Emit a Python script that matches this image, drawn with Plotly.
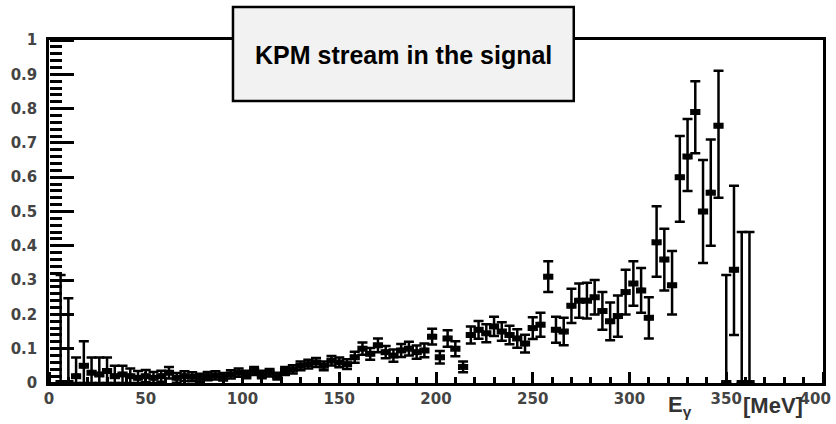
import plotly.graph_objects as go

energy = [6, 10, 14, 18, 22, 26, 30, 34, 38, 42, 46, 50, 54, 58, 62, 66, 70, 74, 78, 82,
          86, 90, 94, 98, 102, 106, 110, 114, 118, 122, 126, 130, 134, 138, 142, 146, 150,
          154, 158, 162, 166, 170, 174, 178, 182, 186, 190, 194, 198, 202, 206, 210, 214,
          218, 222, 226, 230, 234, 238, 242, 246, 250, 254, 258, 262, 266, 270, 274, 278,
          282, 286, 290, 294, 298, 302, 306, 310, 314, 318, 322, 326, 330, 334, 338, 342,
          346, 350, 354, 358, 362]
fraction = [0.0, 0.0, 0.02, 0.05, 0.03, 0.025, 0.035, 0.02, 0.025, 0.02, 0.015, 0.02, 0.015,
            0.02, 0.03, 0.015, 0.02, 0.018, 0.015, 0.02, 0.022, 0.018, 0.025, 0.03, 0.025,
            0.035, 0.025, 0.03, 0.02, 0.035, 0.04, 0.05, 0.055, 0.06, 0.05, 0.065, 0.06,
            0.055, 0.075, 0.10, 0.085, 0.11, 0.09, 0.08, 0.095, 0.10, 0.09, 0.095, 0.135,
            0.075, 0.13, 0.10, 0.047, 0.14, 0.155, 0.145, 0.165, 0.15, 0.14, 0.13, 0.115,
            0.16, 0.17, 0.31, 0.155, 0.15, 0.225, 0.24, 0.24, 0.25, 0.21, 0.18, 0.195,
            0.265, 0.29, 0.27, 0.19, 0.41, 0.36, 0.285, 0.60, 0.66, 0.79, 0.50, 0.555,
            0.75, 0.0, 0.33, 0.0, 0.0]
err_up = [0.315, 0.247, 0.054, 0.072, 0.044, 0.049, 0.039, 0.03, 0.025, 0.022, 0.02, 0.018,
          0.017, 0.016, 0.017, 0.014, 0.014, 0.013, 0.012, 0.012, 0.012, 0.011, 0.012, 0.012,
          0.011, 0.012, 0.011, 0.011, 0.01, 0.012, 0.012, 0.013, 0.013, 0.013, 0.013, 0.014,
          0.014, 0.014, 0.016, 0.018, 0.017, 0.02, 0.018, 0.018, 0.019, 0.02, 0.019, 0.02,
          0.023, 0.018, 0.024, 0.022, 0.016, 0.025, 0.026, 0.026, 0.028, 0.027, 0.027, 0.027,
          0.026, 0.032, 0.035, 0.045, 0.038, 0.04, 0.05, 0.05, 0.052, 0.05, 0.055, 0.055,
          0.06, 0.065, 0.065, 0.065, 0.06, 0.105, 0.09, 0.1, 0.12, 0.11, 0.09, 0.15, 0.155,
          0.16, 0.315, 0.245, 0.44, 0.44]
err_down = [0.0, 0.0, 0.02, 0.05, 0.03, 0.025, 0.035, 0.02, 0.025, 0.02, 0.015, 0.018, 0.015,
            0.016, 0.017, 0.014, 0.014, 0.013, 0.012, 0.012, 0.012, 0.011, 0.012, 0.012,
            0.011, 0.012, 0.011, 0.011, 0.01, 0.012, 0.012, 0.013, 0.013, 0.013, 0.013,
            0.014, 0.014, 0.014, 0.016, 0.018, 0.017, 0.02, 0.018, 0.018, 0.019, 0.02,
            0.019, 0.02, 0.023, 0.018, 0.024, 0.022, 0.016, 0.025, 0.026, 0.026, 0.028,
            0.027, 0.027, 0.027, 0.026, 0.032, 0.035, 0.045, 0.038, 0.04, 0.05, 0.05, 0.052,
            0.05, 0.055, 0.055, 0.06, 0.065, 0.065, 0.065, 0.06, 0.10, 0.09, 0.085, 0.13,
            0.10, 0.12, 0.15, 0.155, 0.21, 0.0, 0.19, 0.0, 0.0]
bin_half_width = 2.0

x_range = [0, 400]
y_range = [0, 1]
x_ticks = [0, 50, 100, 150, 200, 250, 300, 350, 400]
x_tick_labels = ["0", "50", "100", "150", "200", "250", "300", "350",
                 "400\u00a0\u00a0\u00a0"]
title_text = "KPM stream in the signal"

fig = go.Figure()
# invisible copy of the data on the helper axes so that they get drawn
fig.add_trace(go.Scatter(
    x=energy, y=fraction, mode="markers", xaxis="x2", yaxis="y2",
    marker=dict(size=1, opacity=0), hoverinfo="skip", showlegend=False,
))
fig.add_trace(go.Scatter(
    x=energy, y=fraction, mode="markers",
    marker=dict(symbol="square", size=6, color="black"),
    error_y=dict(type="data", symmetric=False, array=err_up, arrayminus=err_down,
                 color="black", thickness=2.5, width=5),
    error_x=dict(type="constant", value=bin_half_width, color="black",
                 thickness=2.5, width=3),
    showlegend=False,
))

tickfont = dict(family="DejaVu Sans", size=15, color="#444", weight="bold")
fig.update_layout(
    xaxis=dict(range=x_range, tickmode="array", tickvals=x_ticks, ticktext=x_tick_labels,
               ticks="", showline=True, linewidth=2.5, linecolor="black", mirror=True,
               showgrid=False, zeroline=False, tickfont=tickfont,
               ticklabeloverflow="allow", automargin=False),
    yaxis=dict(range=y_range, tickmode="linear", tick0=0, dtick=0.1, ticks="",
               showline=True, linewidth=2.5, linecolor="black", mirror=True,
               showgrid=False, zeroline=False, tickfont=tickfont, automargin=False,
               ticklabelstandoff=6),
    # helper axes whose outside ticks point into the frame (ROOT-style inner ticks)
    xaxis2=dict(overlaying="x", side="top", anchor="free", position=0, range=x_range,
                tickmode="linear", tick0=0, dtick=50, ticks="outside", ticklen=11,
                tickwidth=2.5, tickcolor="black", showticklabels=False, showgrid=False,
                zeroline=False, showline=False, automargin=False,
                minor=dict(ticks="outside", dtick=10, ticklen=6, tickwidth=2.5,
                           tickcolor="black")),
    yaxis2=dict(overlaying="y", side="right", anchor="free", position=0, range=y_range,
                tickmode="linear", tick0=0, dtick=0.1, ticks="outside", ticklen=24,
                tickwidth=2.5, tickcolor="black", showticklabels=False, showgrid=False,
                zeroline=False, showline=False, automargin=False,
                minor=dict(ticks="outside", dtick=0.02, ticklen=12, tickwidth=2.5,
                           tickcolor="black")),
)

fig.add_shape(type="rect", xref="paper", yref="paper",
              x0=0.2377, x1=0.678, y0=0.822, y1=1.096,
              fillcolor="#f2f2f2", line=dict(color="black", width=2.5), layer="above")
fig.add_annotation(xref="paper", yref="paper", x=0.458, y=0.956, text=title_text,
                   showarrow=False, xanchor="center", yanchor="middle",
                   font=dict(family="Liberation Sans", size=25, color="black", weight="bold"))
fig.add_annotation(xref="paper", yref="paper", x=0.815, y=-0.066, text="E<sub>γ</sub>",
                   showarrow=False, xanchor="center", yanchor="middle",
                   font=dict(family="Liberation Sans", size=22, color="#333", weight="bold"))
fig.add_annotation(xref="paper", yref="paper", x=0.935, y=-0.066, text="[MeV]",
                   showarrow=False, xanchor="center", yanchor="middle",
                   font=dict(family="Liberation Sans", size=22, color="#333", weight="bold"))

fig.update_layout(
    width=836, height=424,
    margin=dict(l=49, r=13, t=40, b=41),
    paper_bgcolor="white", plot_bgcolor="white",
)
fig.write_html("out.html")
